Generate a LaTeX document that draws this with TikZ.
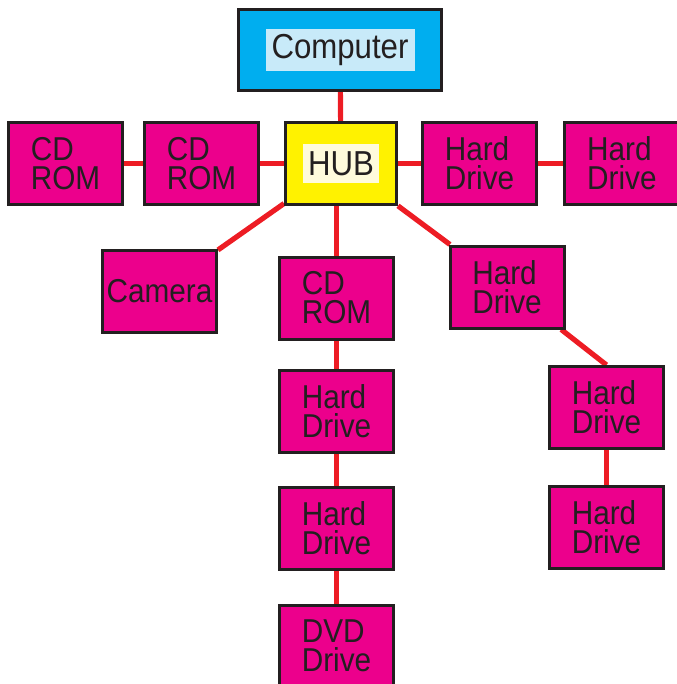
\documentclass[tikz,border=0pt]{standalone}
\usepackage{xcolor}
\usepackage{fontspec}
\setmainfont{Liberation Sans}[FakeStretch=0.9]
\usepackage{tikz}
\usetikzlibrary{positioning,backgrounds}
\definecolor{hwInk}{HTML}{231F20}
\definecolor{hwMagenta}{HTML}{EC008C}
\definecolor{hwCyan}{HTML}{00AEEF}
\definecolor{hwLightCyan}{HTML}{C8EAF9}
\definecolor{hwYellow}{HTML}{FFF200}
\definecolor{hwLightYellow}{HTML}{FFFBDC}
\definecolor{hwRed}{HTML}{ED1C24}
\tikzset{
  devbox/.style={rectangle,minimum width=85.5pt,minimum height=61.5pt,
    inner sep=0pt,align=left,draw=hwInk,line width=2.25pt,fill=hwMagenta,
    text=hwInk,font=\fontsize{24.8}{21.75}\selectfont},
  pcbox/.style={rectangle,minimum width=152.25pt,minimum height=60.75pt,
    draw=hwInk,line width=2.25pt,fill=hwCyan},
  hubbox/.style={rectangle,minimum width=83.25pt,minimum height=61.5pt,
    draw=hwInk,line width=2.25pt,fill=hwYellow},
  tagbox/.style={rectangle,inner sep=0pt,text=hwInk,
    font=\fontsize{26}{26}\selectfont},
  wire/.style={draw=hwRed,line width=3.9pt},
}
\begin{document}
\begin{tikzpicture}[x=0.75pt,y=-0.75pt]

  \useasboundingbox (0,0) rectangle (676,684);

  \node[pcbox] (computer) at (340,50) {};
  \node[tagbox,fill=hwLightCyan,minimum width=111.75pt,minimum height=31.5pt]
    (pctag) at (computer) {Computer};

  \node[hubbox] (hub) at (341,163.5) {};
  \node[tagbox,fill=hwLightYellow,minimum width=57pt,minimum height=29.25pt]
    (hubtag) at (hub) {HUB};

  \node[devbox,left=18pt of hub] (cd2) {CD\\ROM};
  \node[devbox,left=14.25pt of cd2] (cd1) {CD\\ROM};

  \node[devbox,right=17.25pt of hub] (hd1) {Hard\\Drive};
  \node[devbox,right=19pt of hd1] (hd2) {Hard\\Drive};

  \node[devbox] (camera) at (159.5,291) {Camera};

  \node[devbox] (cd3) at (336.5,298) {CD\\ROM};
  \node[devbox,below=21pt of cd3] (hd5) {Hard\\Drive};
  \node[devbox,below=24pt of hd5] (hd6) {Hard\\Drive};
  \node[devbox,below=24.75pt of hd6] (dvd) {DVD\\Drive};

  \node[devbox] (hd3) at (507,287) {Hard\\Drive};
  \node[devbox] (hd4) at (606.5,407.5) {Hard\\Drive};
  \node[devbox,below=26.25pt of hd4] (hd7) {Hard\\Drive};

  \begin{scope}[on background layer]
    \foreach \from/\to in {computer/hub,hub/cd2,cd2/cd1,hub/hd1,hd1/hd2,
      hub/camera,hub/hd3,cd3/hd5,hd5/hd6,hd6/dvd,hd4/hd7}
      \draw[wire] (\from) -- (\to);
    \draw[wire] (cd3) -- (cd3 |- hub);
    \draw[wire] (hd3) -- (hd4.north);
  \end{scope}

\end{tikzpicture}
\end{document}
